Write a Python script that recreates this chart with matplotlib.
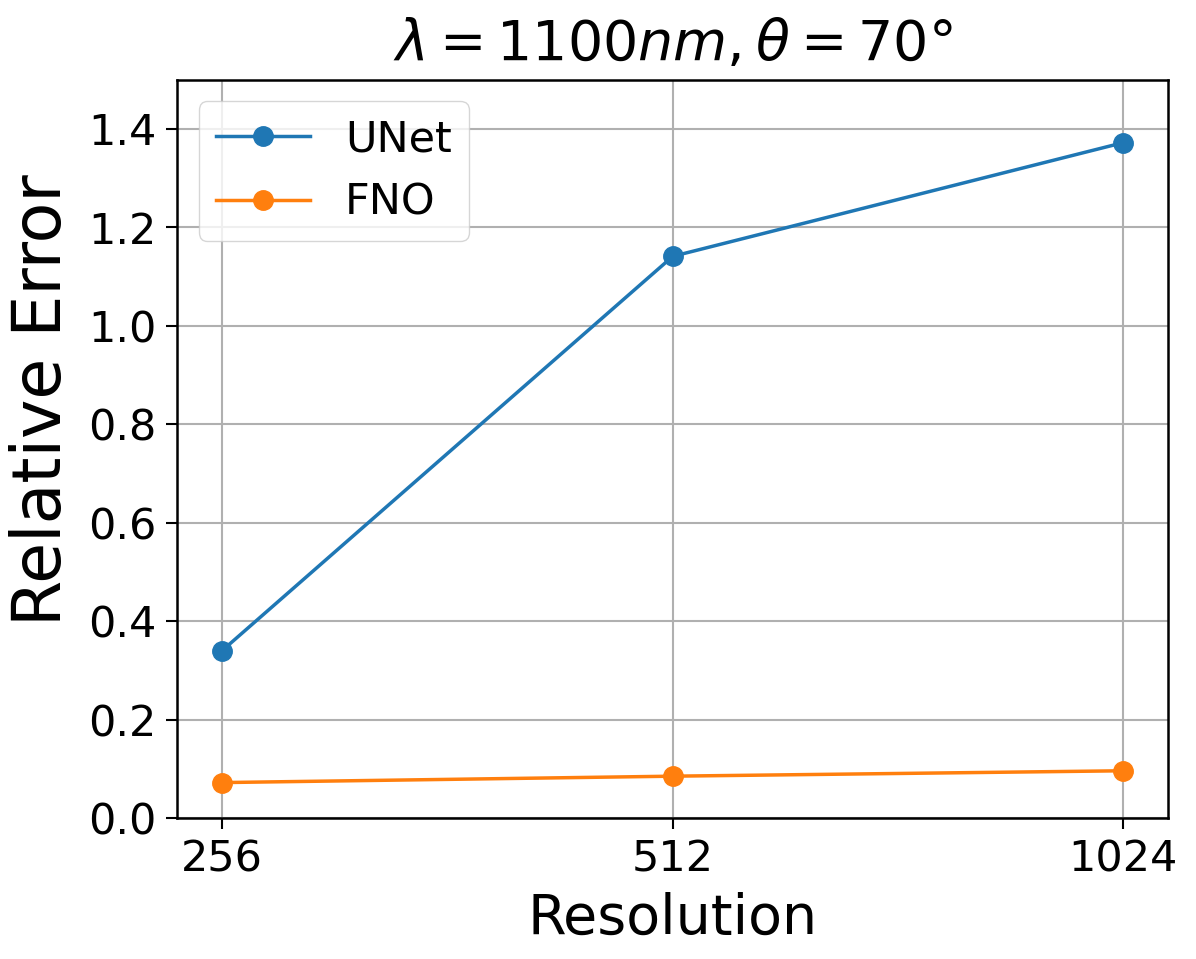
import numpy as np
import matplotlib
matplotlib.use("Agg")
import matplotlib.pyplot as plt

resolutions = ['256', '512', '1024']
unet_err = [0.34, 1.141, 1.372]
fno_err = [0.072, 0.085, 0.096]

fig = plt.figure(figsize=(11.96, 9.59), dpi=100)
ax = fig.add_axes([0.148, 0.147, 0.829, 0.770])

x = np.arange(len(resolutions))
ax.plot(x, unet_err, marker='o', color='#1f77b4', lw=2.5, ms=14, label='UNet')
ax.plot(x, fno_err, marker='o', color='#ff7f0e', lw=2.5, ms=14, label='FNO')

ax.set_xticks(x)
ax.set_xticklabels(resolutions)
ax.set_ylim(0, 1.5)
ax.set_yticks(np.arange(0, 1.41, 0.2))
ax.tick_params(labelsize=31, length=8, width=1.5, pad=7)
ax.grid(True, color='#b0b0b0', lw=1.5)
for s in ax.spines.values():
    s.set_linewidth(1.8)

ax.set_xlabel('Resolution', fontsize=40, labelpad=8)
ax.set_ylabel('Relative Error', fontsize=48)
ax.yaxis.set_label_coords(-0.103, 0.566)
ax.set_title(r'$\lambda = 1100nm, \theta = 70°$', fontsize=40, pad=14)
ax.legend(loc='upper left', fontsize=31, handlelength=2.2, borderaxespad=0.5)

fig.savefig('out.png', dpi=100)
